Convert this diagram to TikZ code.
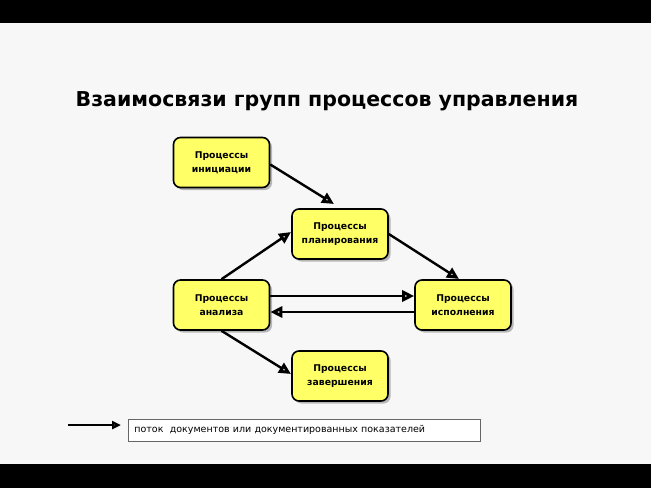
\documentclass[tikz,border=0pt]{standalone}
\usepackage{fontspec}
\setmainfont{DejaVu Sans}
\usetikzlibrary{arrows.meta,shadows}
\definecolor{bg}{HTML}{F7F7F7}
\definecolor{boxyellow}{HTML}{FFFF66}
\begin{document}
\begin{tikzpicture}[x=1pt,y=-1pt,
  proc/.style={draw=black, line width=1.6pt, rounded corners=7pt, fill=boxyellow,
    minimum width=96pt, minimum height=50pt, align=center, font=\fontsize{9.3}{14}\selectfont\bfseries,
    drop shadow={shadow xshift=2.5pt, shadow yshift=-2.5pt, fill=black!45, opacity=0.6}},
  flow/.style={line width=2.4pt, -{Triangle[open, length=12pt, width=11pt, line width=3.4pt]}}]
\useasboundingbox (0,0) rectangle (651,488);
\fill[bg] (0,0) rectangle (651,488);
\fill[black] (0,0) rectangle (651,23);
\fill[black] (0,464) rectangle (651,488);
\node[font=\fontsize{20.5}{24}\selectfont\bfseries] (title) at (327,101) {Взаимосвязи групп процессов управления};
\node[proc] (init) at (221.5,162.5) {Процессы\\инициации};
\node[proc] (plan) at (340,234) {Процессы\\планирования};
\node[proc] (anal) at (221.5,305) {Процессы\\анализа};
\node[proc] (exec) at (463,305) {Процессы\\исполнения};
\node[proc] (close) at (340,376) {Процессы\\завершения};
\draw[flow] (init.east) ++(0,2) -- (334,204);
\draw[flow] (plan.east) -- (459,279);
\draw[flow] (anal.north) -- (291,232);
\draw[flow] ([yshift=9pt]anal.east) -- ([yshift=9pt]exec.west);
\draw[flow] ([yshift=-7pt]exec.west) -- ([yshift=-7pt]anal.east);
\draw[flow] (anal.south) -- (291,374);
\node[draw=black!60, line width=0.8pt, fill=white, minimum width=352pt, minimum height=22pt, anchor=west,
  inner xsep=6pt, font=\fontsize{9.5}{11}\selectfont, text width=340pt] (leg) at (128,430) {поток\ \ документов или документированных показателей};
\coordinate (ls) at (68,425);
\draw[line width=1.8pt, -{Triangle[open, length=9pt, width=8pt, line width=2.4pt]}] (ls) -- (121,425);
\end{tikzpicture}
\end{document}
